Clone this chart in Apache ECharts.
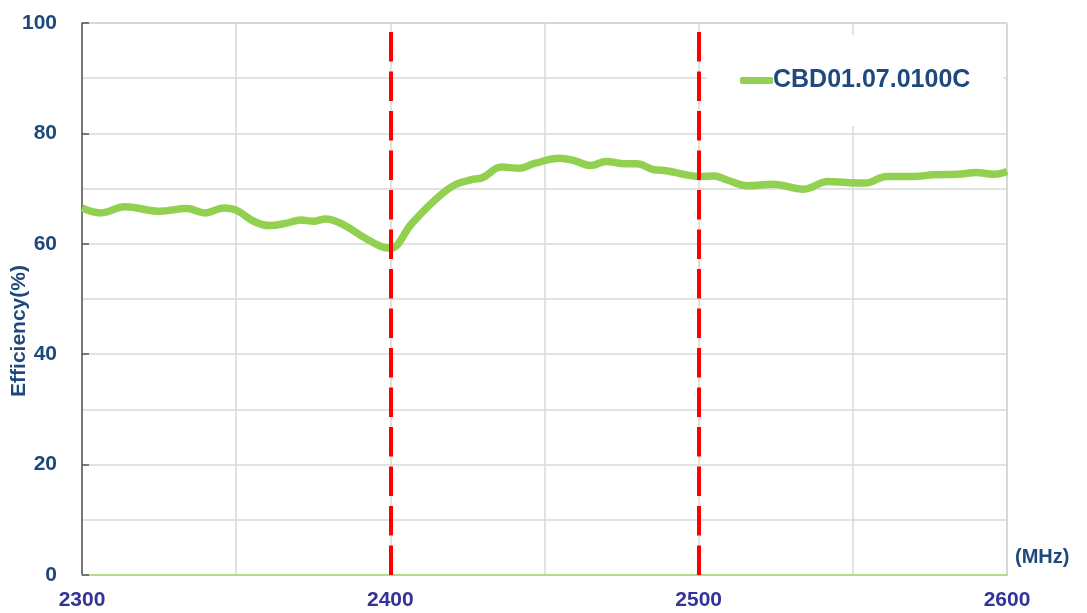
<!DOCTYPE html>
<html>
<head>
<meta charset="utf-8">
<script src="https://cdn.jsdelivr.net/npm/echarts@6/dist/echarts.min.js"></script>
<style>
  html, body { margin: 0; padding: 0; background: #fff; }
  #chart { width: 1087px; height: 613px; }
</style>
</head>
<body>
<div id="chart"></div>
<script>
var seriesName = "CBD01.07.0100C";
// frequency (MHz) and efficiency (%)
var freq = [2300, 2306, 2314, 2325, 2334, 2340, 2346, 2350, 2356, 2361, 2366, 2371, 2375, 2379,
  2385, 2391, 2397, 2400, 2407, 2415, 2421, 2427, 2430, 2436, 2442, 2447, 2455, 2460, 2465,
  2470, 2476, 2480, 2485, 2490, 2495, 2500, 2505, 2509, 2516, 2524, 2534, 2542, 2548, 2554,
  2561, 2570, 2576, 2584, 2590, 2596, 2600];
var efficiency = [66.5, 65.6, 66.7, 65.9, 66.4, 65.6, 66.5, 66.1, 64.0, 63.3, 63.7, 64.3, 64.1, 64.5,
  63.4, 61.3, 59.5, 59.2, 63.7, 68.2, 70.7, 71.7, 72.0, 73.9, 73.7, 74.6, 75.5, 75.0, 74.2,
  74.9, 74.5, 74.5, 73.5, 73.2, 72.6, 72.2, 72.3, 71.6, 70.5, 70.8, 69.9, 71.3, 71.1, 71.0,
  72.2, 72.2, 72.5, 72.6, 72.9, 72.6, 73.1];
var bandEdges = [2400, 2500];

var myChart = echarts.init(document.getElementById("chart"));
var points = [];
for (var i = 0; i < freq.length; i++) {
  points.push([freq[i], efficiency[i]]);
}
var edgeLines = [];
for (var j = 0; j < bandEdges.length; j++) {
  edgeLines.push({ xAxis: bandEdges[j] });
}

var option = {
  animation: false,
  textStyle: { fontFamily: "Liberation Sans, Arial, sans-serif" },
  grid: {
    left: 82,
    right: 80,
    top: 23,
    bottom: 38,
    containLabel: false,
    outerBoundsMode: "none",
    show: true,
    borderColor: "#A6A6A6",
    borderWidth: 1,
  },
  legend: {
    left: 707,
    top: 35,
    padding: [33, 33, 33, 33],
    backgroundColor: "#fff",
    icon: "roundRect",
    itemWidth: 33,
    itemHeight: 7,
    itemGap: 0,
    textStyle: {
      color: "#1F497D",
      fontSize: 25,
      fontWeight: "bold",
      padding: [0, 0, 0, -5],
    },
    data: [seriesName],
  },
  xAxis: {
    type: "value",
    min: 2300,
    max: 2600,
    interval: 100,
    name: "(MHz)",
    nameLocation: "end",
    nameGap: 8,
    nameTextStyle: {
      color: "#1F497D",
      fontSize: 20,
      fontWeight: "bold",
      verticalAlign: "bottom",
      padding: [0, 0, 8, 0],
    },
    axisLine: { show: true, lineStyle: { color: "#B3DC8A", width: 2 } },
    axisTick: { show: false },
    axisLabel: {
      color: "#333399",
      fontSize: 21,
      fontWeight: "bold",
      margin: 15,
      formatter: function (v) { return String(v); },
    },
    splitLine: { show: true, lineStyle: { color: "#D9D9D9", width: 1.5 } },
    minorTick: { show: false, splitNumber: 2 },
    minorSplitLine: { show: true, lineStyle: { color: "#D9D9D9", width: 1.5 } },
  },
  yAxis: {
    type: "value",
    min: 0,
    max: 100,
    interval: 20,
    name: "Efficiency(%)",
    nameLocation: "middle",
    nameGap: 52,
    nameMoveOverlap: false,
    nameTextStyle: {
      color: "#1F497D",
      fontSize: 21,
      fontWeight: "bold",
      padding: [0, 64, 0, 0],
    },
    axisLine: { show: true, lineStyle: { color: "#595959", width: 1.5 } },
    axisTick: { show: true, inside: true, length: 7, lineStyle: { color: "#595959", width: 1.5 } },
    axisLabel: {
      color: "#1F497D",
      fontSize: 21,
      fontWeight: "bold",
      margin: 25,
    },
    splitLine: { show: true, lineStyle: { color: "#D9D9D9", width: 1.5 } },
    minorTick: { show: false, splitNumber: 2 },
    minorSplitLine: { show: true, lineStyle: { color: "#D9D9D9", width: 1.5 } },
  },
  series: [
    {
      name: seriesName,
      type: "line",
      smooth: 0.4,
      symbol: "none",
      data: points,
      lineStyle: { color: "#92D050", width: 7.5 },
      itemStyle: { color: "#92D050" },
      markLine: {
        silent: true,
        symbol: ["none", "none"],
        label: { show: false },
        lineStyle: { color: "#FF0000", width: 4, type: [29.5, 10] },
        emphasis: { disabled: true },
        data: edgeLines,
      },
    },
  ],
};

myChart.setOption(option);
</script>
</body>
</html>
